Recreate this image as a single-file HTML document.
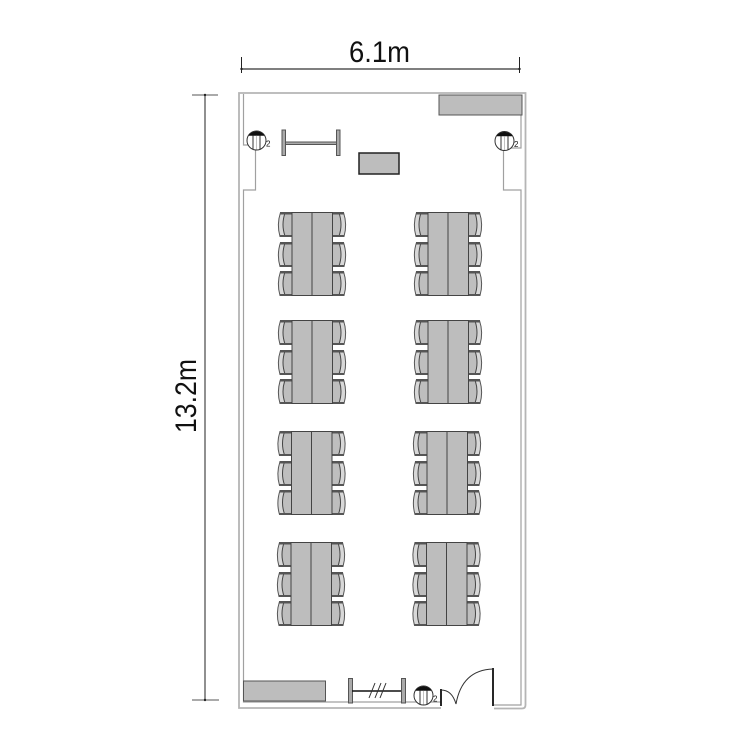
<!DOCTYPE html>
<html><head><meta charset="utf-8"><style>
html,body{margin:0;padding:0;background:#fff}
svg{display:block}
text{font-family:"Liberation Sans",sans-serif;fill:#111}
</style></head><body>
<svg width="750" height="750" viewBox="0 0 750 750">
<defs>
<g id="c">
<path d="M14 0.5H2.500Q-1.500 12.500 2 24.500H14Z" fill="#d8d8d8" stroke="#555" stroke-width="1"/>
<path d="M14 1H7Q3 12.500 7 24H14Z" fill="#bebebe" stroke="#444" stroke-width="1"/>
<rect x="2" y="0" width="12" height="2.500" fill="#555"/>
<rect x="2" y="23" width="12" height="2" fill="#555"/>
</g>
<g id="t">
<use href="#c" x="0" y="0"/><use href="#c" x="0" y="30"/><use href="#c" x="0" y="59"/>
<use href="#c" transform="translate(68,0) scale(-1,1)"/>
<use href="#c" transform="translate(68,30) scale(-1,1)"/>
<use href="#c" transform="translate(68,59) scale(-1,1)"/>
<rect x="14" y="0.5" width="40.500" height="83" fill="#bdbdbd" stroke="#444" stroke-width="1"/>
<line x1="34" y1="0.5" x2="34" y2="83.500" stroke="#444" stroke-width="1"/>
</g>
<g id="p">
<circle cx="0" cy="0" r="9.500" fill="#fff" stroke="#333" stroke-width="1"/>
<path d="M-7.500 -5.500A9.500 9.500 0 0 1 7.500 -5.500Z" fill="#111"/>
<path d="M-7.500 -5.500H7.500" stroke="#111" stroke-width="1.500"/>
<path d="M-3.500 -5V9M3.500 -5V9" stroke="#333" stroke-width="1" fill="none"/>
<path d="M0 -5V9" stroke="#999" stroke-width="0.600" fill="none"/>
<text x="9.500" y="6" font-size="8">2</text>
</g>
</defs>

<text x="349" y="62" font-size="30" textLength="61" lengthAdjust="spacingAndGlyphs">6.1m</text>
<path d="M241 69H519" stroke="#333" stroke-width="1.300"/>
<path d="M241.500 57V73M519.500 57V73" stroke="#222" stroke-width="1"/>
<circle cx="241.500" cy="69" r="1.200" fill="#222"/><circle cx="519.500" cy="69" r="1.200" fill="#222"/>

<text transform="translate(196,433) rotate(-90)" font-size="30" textLength="74" lengthAdjust="spacingAndGlyphs">13.2m</text>
<path d="M205 95V699" stroke="#555" stroke-width="1.300"/>
<path d="M192 95H218M192 700H219" stroke="#555" stroke-width="1"/>
<circle cx="205" cy="95" r="1.200" fill="#222"/><circle cx="205" cy="700" r="1.200" fill="#222"/>

<path d="M441 708H239V93H525.500V705Q525.500 708.500 522 708.500H494" fill="none" stroke="#b5b5b5" stroke-width="1.800"/>
<path d="M243.500 94V145H255.500V190H243.500V702H441" fill="none" stroke="#a0a0a0" stroke-width="1.200"/>
<path d="M521 115V148H503.500V190H521V705H494" fill="none" stroke="#a0a0a0" stroke-width="1.200"/>

<rect x="439" y="95" width="83" height="20" fill="#bdbdbd" stroke="#555" stroke-width="1"/>
<rect x="359" y="153" width="40" height="21" fill="#bdbdbd" stroke="#222" stroke-width="1.500"/>
<rect x="243.500" y="681" width="82" height="20" fill="#bdbdbd" stroke="#555" stroke-width="1"/>

<g fill="#aaa" stroke="#555" stroke-width="1">
<rect x="282" y="130" width="3.500" height="25.500"/><rect x="336.500" y="130" width="3.500" height="25.500"/>
<rect x="285.500" y="142" width="51" height="2.500"/>
<rect x="348.500" y="678.500" width="4" height="24.500"/><rect x="401.500" y="678.500" width="4" height="24.500"/>
</g>
<path d="M352 691H401" stroke="#111" stroke-width="1.500"/>
<path d="M369 698L375 683M375 698L381 683M380 698L386 683" stroke="#333" stroke-width="1"/>

<use href="#p" x="256.500" y="140.500"/>
<use href="#p" x="504.500" y="141"/>
<use href="#p" x="423.500" y="695.500"/>

<path d="M441 689V706M493 668V706" stroke="#111" stroke-width="1.800" fill="none"/>
<path d="M441 690Q452 690 456 704Q462 670 493 669" stroke="#333" stroke-width="1" fill="none"/>

<use href="#t" x="278" y="212"/><use href="#t" x="414" y="212"/>
<use href="#t" x="278" y="320"/><use href="#t" x="414" y="320"/>
<use href="#t" x="277.500" y="431"/><use href="#t" x="413" y="431"/>
<use href="#t" x="277" y="542"/><use href="#t" x="412.500" y="542"/>
</svg>
</body></html>
